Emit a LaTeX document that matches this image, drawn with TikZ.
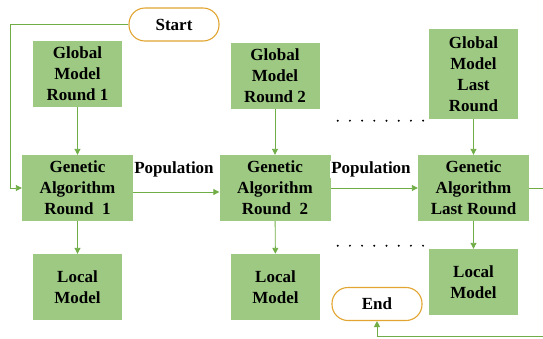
\documentclass[tikz,border=0pt]{standalone}
\usepackage{fontspec}
\setmainfont{Liberation Serif}
\usetikzlibrary{arrows.meta}
\definecolor{boxgreen}{HTML}{9DC983}
\definecolor{linegreen}{HTML}{70AD47}
\definecolor{capsule}{HTML}{E2A531}
\begin{document}
\begin{tikzpicture}[x=1pt,y=-1pt,
  txt/.style={font=\bfseries\fontsize{17}{21}\selectfont, align=center},
  box/.style={txt, fill=boxgreen, draw=none, inner sep=0pt,
              minimum width=89pt, minimum height=66pt},
  gabox/.style={box, minimum width=111pt},
  term/.style={txt, draw=capsule, line width=1.1pt, fill=white,
               rounded corners=16pt, inner sep=0pt,
               minimum width=90pt, minimum height=33pt},
  lbl/.style={txt, fill=white, inner sep=1pt},
  conn/.style={draw=linegreen, line width=0.9pt,
               -{Triangle[length=6pt,width=6pt]}},
  plain/.style={draw=linegreen, line width=0.9pt},
  dot/.style={fill=black}
]
\useasboundingbox (0,0) rectangle (543,338);

% terminals
\node[term] (start) at (174,24.5) {Start};
\node[term] (end) at (377,304) {End};

% column 1
\node[box]   (g1) at (77.5,74)  {Global\\Model\\Round 1};
\node[gabox] (a1) at (77.5,188) {Genetic\\Algorithm\\Round\enspace1};
\node[box]   (l1) at (77.5,287) {Local\\Model};

% column 2
\node[box]   (g2) at (275,76)   {Global\\Model\\Round 2};
\node[gabox] (a2) at (275,188)  {Genetic\\Algorithm\\Round\enspace2};
\node[box]   (l2) at (275.5,287) {Local\\Model};

% last column
\node[box, minimum height=90pt] (g3) at (473.5,74) {Global\\Model\\Last\\Round};
\node[gabox] (a3) at (473.5,188) {Genetic\\Algorithm\\Last Round};
\node[box]   (l3) at (473.5,282) {Local\\Model};

% vertical flow
\draw[conn] (g1) -- (a1);
\draw[conn] (a1) -- (l1);
\draw[conn] (g2) -- (a2);
\draw[conn] (a2) -- (l2);
\draw[conn] (g3) -- (a3);
\draw[conn] (a3) -- (l3);

% population hand-over
\draw[conn] ([yshift=-4pt]a1.east) -- ([yshift=-4pt]a2.west);
\draw[conn] (a2.east) -- (a3.west);
\node[lbl] (p1) at (174,169.5) {Population};
\node[lbl] (p2) at (371,169.5) {Population};

% entry and exit paths
\coordinate (lft) at (10,24.5);
\draw[conn] (start.west) -- (lft) |- (a1.west);
\coordinate (rgt) at (545,188);
\coordinate (bot) at (545,336.5);
\draw[plain] (a3.east) -- (rgt) -- (bot);
\draw[conn] (bot) -| (end.south);

% omitted rounds
\foreach \i in {0,...,7} {
  \fill[dot] (337.7+12.2*\i,120.7) circle (1.1pt);
  \fill[dot] (337.7+12.2*\i,245.7) circle (1.1pt);
}
\end{tikzpicture}
\end{document}
